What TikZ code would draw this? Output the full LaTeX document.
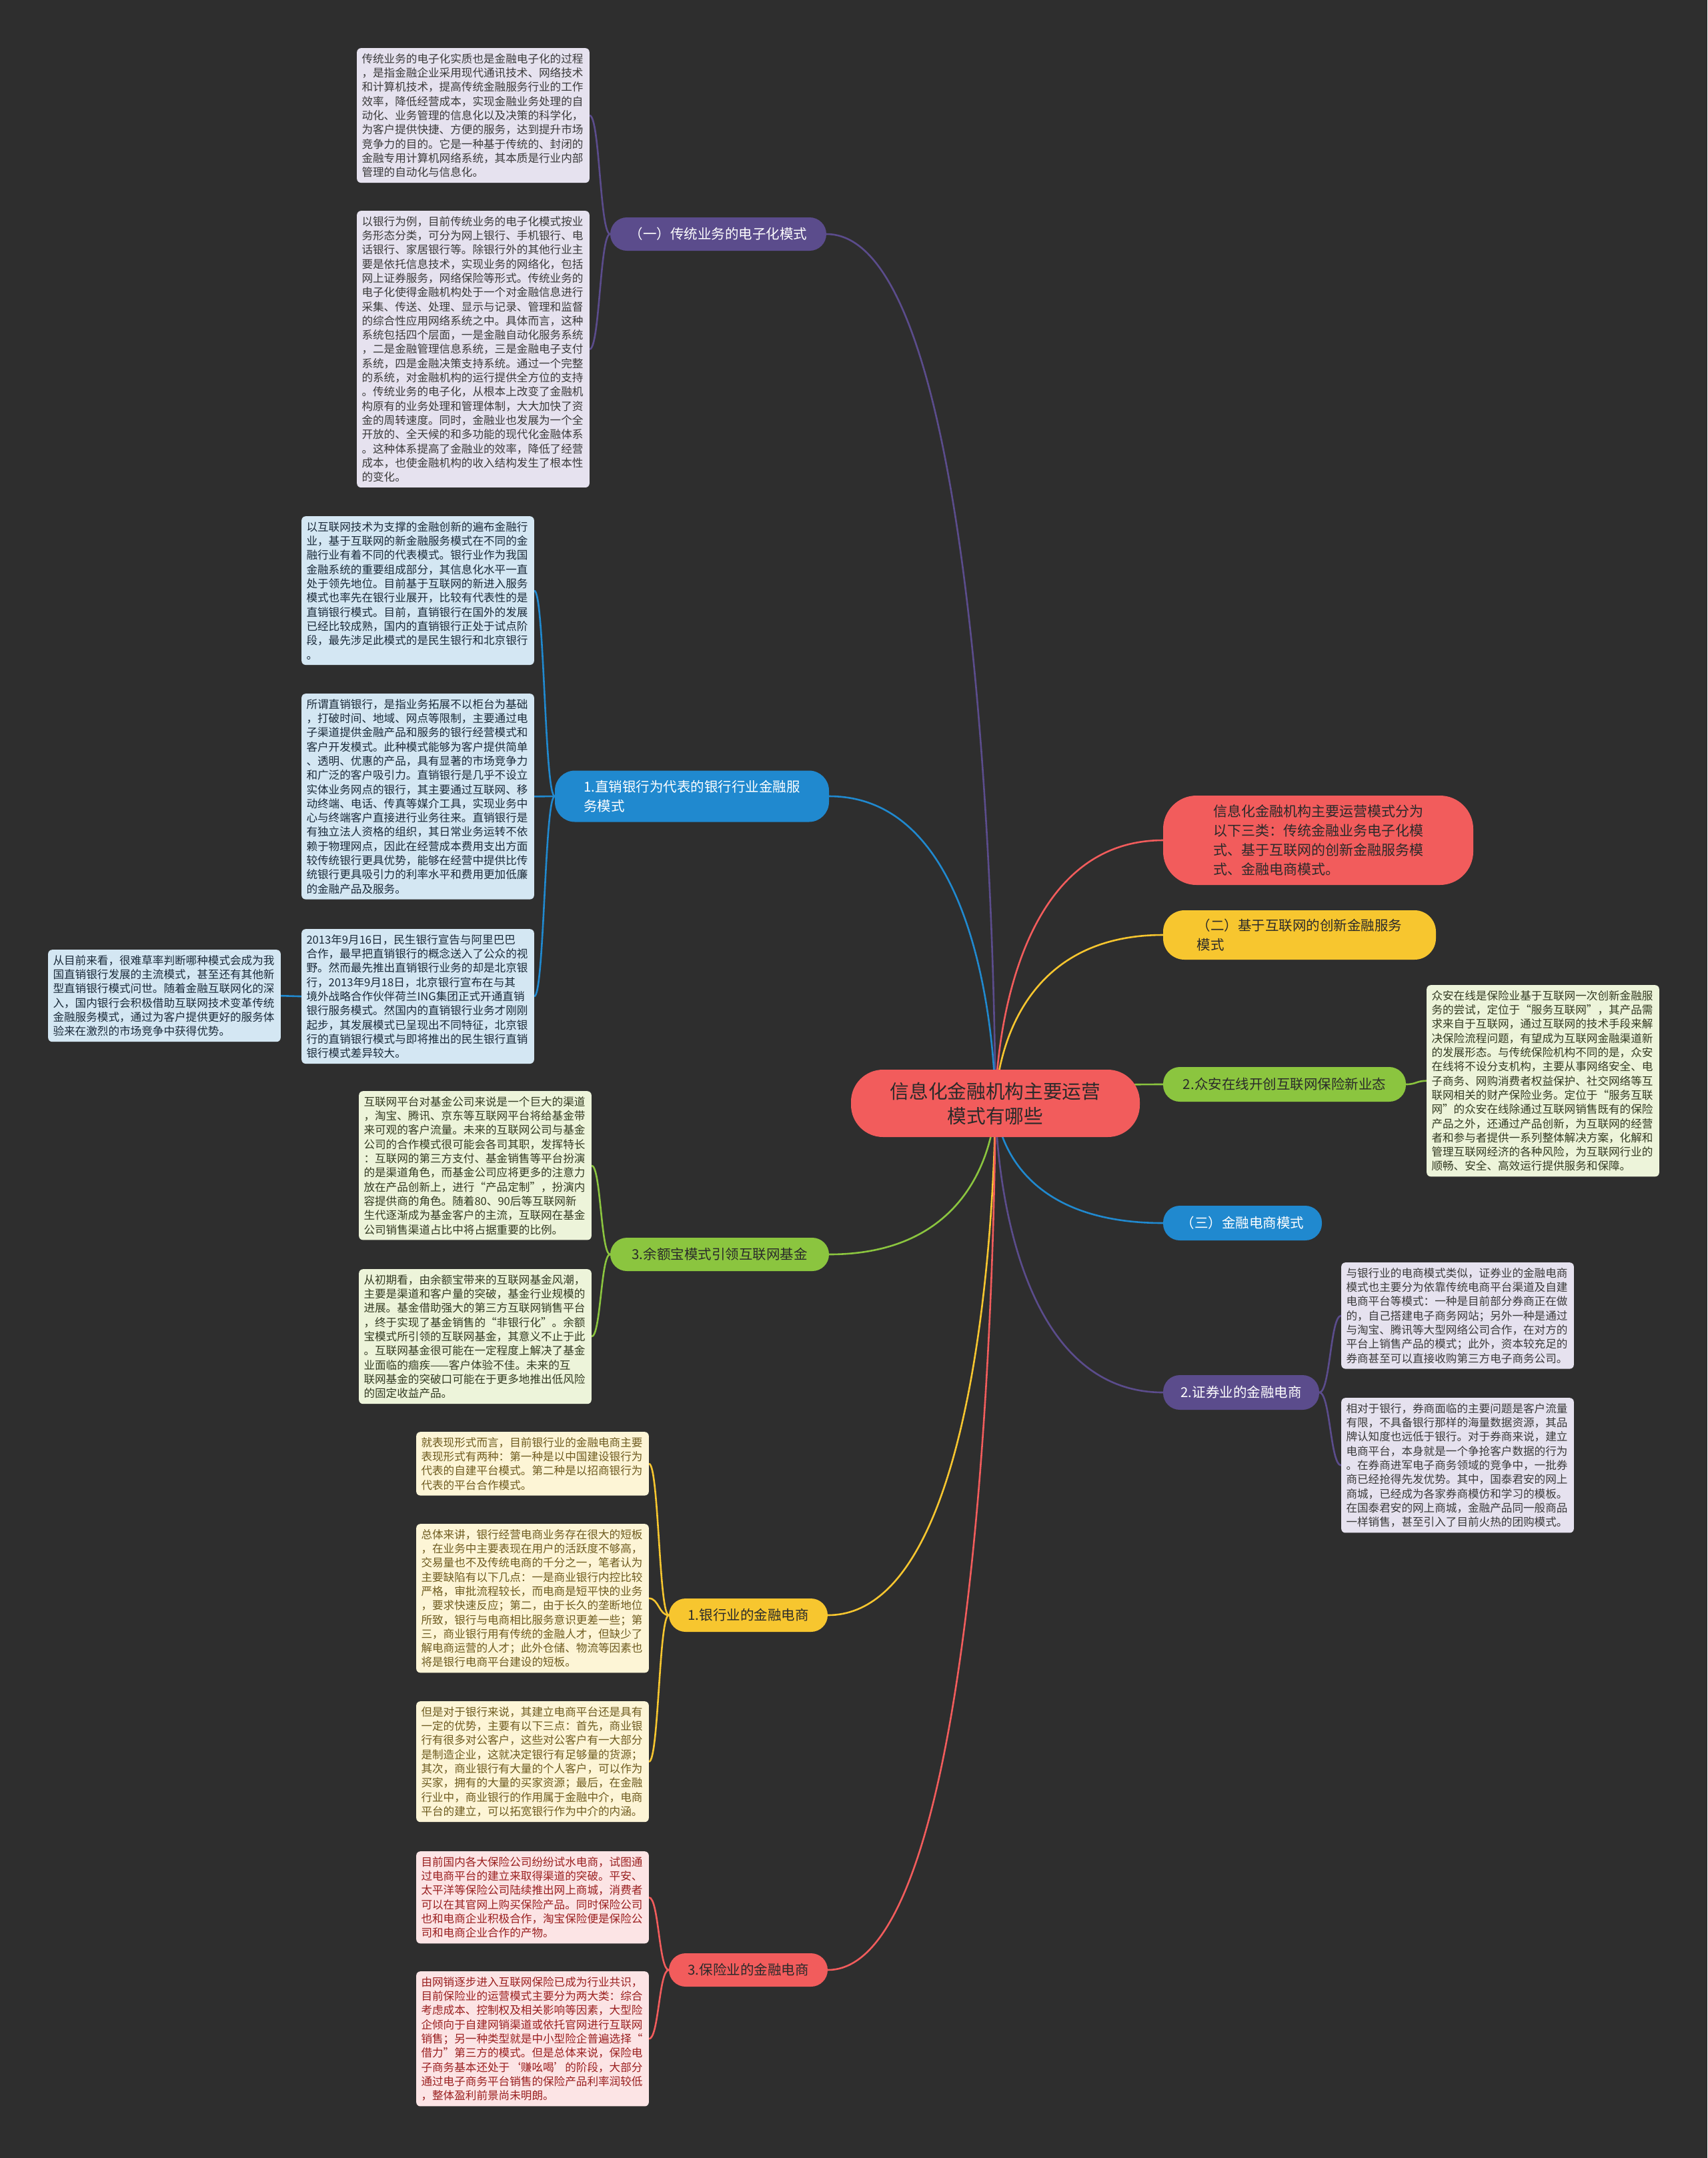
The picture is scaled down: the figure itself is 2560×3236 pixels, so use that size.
\documentclass[tikz,border=0pt]{standalone}
\usepackage{fontspec}
\newfontfamily\cjk{Noto Sans CJK SC}
\usetikzlibrary{calc}
\pgfdeclarelayer{bg}
\pgfsetlayers{bg,main}
\definecolor{bgc}{HTML}{2E2E2E}
\definecolor{cPur}{HTML}{5B4C8C}
\definecolor{cBlu}{HTML}{2089CF}
\definecolor{cGrn}{HTML}{8BC53F}
\definecolor{cYel}{HTML}{F7C62F}
\definecolor{cRed}{HTML}{F25C5C}
\definecolor{fPur}{HTML}{E6E2EF}
\definecolor{fBlu}{HTML}{D4E7F3}
\definecolor{fGrn}{HTML}{EDF4DA}
\definecolor{fYel}{HTML}{FDF5D6}
\definecolor{fRed}{HTML}{FCE4E5}
\definecolor{tPur}{HTML}{3A3A3A}
\definecolor{tBlu}{HTML}{1A2A3A}
\definecolor{tGrn}{HTML}{333A22}
\definecolor{tYel}{HTML}{6E5B1F}
\definecolor{tRed}{HTML}{9A1F1F}
\definecolor{tDark}{HTML}{2A2A2A}
\newcommand\rootlink[2]{\draw[conn,#1] (root.center) .. controls (root.center) and (root.center |- #2) .. (#2);}
\newcommand\sublink[3]{\draw[conn,#1] (#2) .. controls ($(#2)!0.5!(#2 -| #3)$) and ($(#3)!0.5!(#3 -| #2)$) .. (#3);}
\begin{document}
\begin{tikzpicture}[x=1pt,y=-1pt,
  conn/.style={line width=2.6pt},
  txtbox/.style={rounded corners=6pt, text width=334pt, align=left, inner xsep=7.3pt, inner ysep=8pt,
    font={\cjk\fontsize{16.6pt}{21.3pt}\selectfont}, anchor=north west},
  pbox/.style={txtbox, fill=fPur, text=tPur},
  bbox/.style={txtbox, fill=fBlu, text=tBlu},
  gbox/.style={txtbox, fill=fGrn, text=tGrn},
  ybox/.style={txtbox, fill=fYel, text=tYel},
  rbox/.style={txtbox, fill=fRed, text=tRed},
  branch/.style={rounded corners=25pt, inner sep=0pt, align=left,
    font={\cjk\fontsize{20.5pt}{29pt}\selectfont}},
]
\useasboundingbox (0,0) rectangle (2560,3236);
\begin{pgfonlayer}{bg}
\fill[bgc] (0,0) rectangle (2560,3236);
\end{pgfonlayer}

% root
\node[fill=cRed, rounded corners=48pt, minimum width=433pt, minimum height=101pt, inner sep=0pt, align=center,
  text=tDark, font={\cjk\fontsize{28.7pt}{37pt}\selectfont}] (root) at (1492.5,1654.5)
  {信息化金融机构主要运营\\模式有哪些};

% left branches
\node[branch, fill=cPur, text=white, minimum width=324pt, minimum height=50pt] (L1) at (1077,351) {（一）传统业务的电子化模式};
\node[branch, fill=cBlu, text=white, minimum width=411pt, minimum height=77pt, rounded corners=30pt] (L2) at (1037.5,1194) {1.直销银行为代表的银行行业金融服\\务模式};
\node[branch, fill=cGrn, text=tDark, minimum width=328pt, minimum height=50pt] (L3) at (1079,1881) {3.余额宝模式引领互联网基金};
\node[branch, fill=cYel, text=tDark, minimum width=238pt, minimum height=50pt] (L4) at (1122,2422) {1.银行业的金融电商};
\node[branch, fill=cRed, text=tDark, minimum width=238pt, minimum height=50pt] (L5) at (1122,2954) {3.保险业的金融电商};

% right branches
\node[branch, fill=cRed, text=tDark, minimum width=465pt, minimum height=134pt, rounded corners=50pt,
  font={\cjk\fontsize{21pt}{29pt}\selectfont}] (R1) at (1976.5,1260)
  {信息化金融机构主要运营模式分为\\以下三类：传统金融业务电子化模\\式、基于互联网的创新金融服务模\\式、金融电商模式。};
\node[branch, fill=cYel, text=tDark, minimum width=409pt, minimum height=74pt, rounded corners=32pt] (R2) at (1948.5,1402) {（二）基于互联网的创新金融服务\\模式};
\node[branch, fill=cGrn, text=tDark, minimum width=364pt, minimum height=52pt] (R3) at (1926,1626) {2.众安在线开创互联网保险新业态};
\node[branch, fill=cBlu, text=white, minimum width=238pt, minimum height=52pt] (R4) at (1863,1834) {（三）金融电商模式};
\node[branch, fill=cPur, text=white, minimum width=234pt, minimum height=52pt] (R5) at (1861,2088) {2.证券业的金融电商};

% text boxes
\node[pbox] (B1) at (535,72) {传统业务的电子化实质也是金融电子化的过程\\，是指金融企业采用现代通讯技术、网络技术\\和计算机技术，提高传统金融服务行业的工作\\效率，降低经营成本，实现金融业务处理的自\\动化、业务管理的信息化以及决策的科学化，\\为客户提供快捷、方便的服务，达到提升市场\\竞争力的目的。它是一种基于传统的、封闭的\\金融专用计算机网络系统，其本质是行业内部\\管理的自动化与信息化。};
\node[pbox] (B2) at (535,316) {以银行为例，目前传统业务的电子化模式按业\\务形态分类，可分为网上银行、手机银行、电\\话银行、家居银行等。除银行外的其他行业主\\要是依托信息技术，实现业务的网络化，包括\\网上证券服务，网络保险等形式。传统业务的\\电子化使得金融机构处于一个对金融信息进行\\采集、传送、处理、显示与记录、管理和监督\\的综合性应用网络系统之中。具体而言，这种\\系统包括四个层面，一是金融自动化服务系统\\，二是金融管理信息系统，三是金融电子支付\\系统，四是金融决策支持系统。通过一个完整\\的系统，对金融机构的运行提供全方位的支持\\。传统业务的电子化，从根本上改变了金融机\\构原有的业务处理和管理体制，大大加快了资\\金的周转速度。同时，金融业也发展为一个全\\开放的、全天候的和多功能的现代化金融体系\\。这种体系提高了金融业的效率，降低了经营\\成本，也使金融机构的收入结构发生了根本性\\的变化。};
\node[bbox] (B3) at (452,774) {以互联网技术为支撑的金融创新的遍布金融行\\业，基于互联网的新金融服务模式在不同的金\\融行业有着不同的代表模式。银行业作为我国\\金融系统的重要组成部分，其信息化水平一直\\处于领先地位。目前基于互联网的新进入服务\\模式也率先在银行业展开，比较有代表性的是\\直销银行模式。目前，直销银行在国外的发展\\已经比较成熟，国内的直销银行正处于试点阶\\段，最先涉足此模式的是民生银行和北京银行\\。};
\node[bbox] (B4) at (452,1040) {所谓直销银行，是指业务拓展不以柜台为基础\\，打破时间、地域、网点等限制，主要通过电\\子渠道提供金融产品和服务的银行经营模式和\\客户开发模式。此种模式能够为客户提供简单\\、透明、优惠的产品，具有显著的市场竞争力\\和广泛的客户吸引力。直销银行是几乎不设立\\实体业务网点的银行，其主要通过互联网、移\\动终端、电话、传真等媒介工具，实现业务中\\心与终端客户直接进行业务往来。直销银行是\\有独立法人资格的组织，其日常业务运转不依\\赖于物理网点，因此在经营成本费用支出方面\\较传统银行更具优势，能够在经营中提供比传\\统银行更具吸引力的利率水平和费用更加低廉\\的金融产品及服务。};
\node[bbox] (B5) at (452,1393) {2013年9月16日，民生银行宣告与阿里巴巴\\合作，最早把直销银行的概念送入了公众的视\\野。然而最先推出直销银行业务的却是北京银\\行，2013年9月18日，北京银行宣布在与其\\境外战略合作伙伴荷兰ING集团正式开通直销\\银行服务模式。然国内的直销银行业务才刚刚\\起步，其发展模式已呈现出不同特征，北京银\\行的直销银行模式与即将推出的民生银行直销\\银行模式差异较大。};
\node[bbox] (B6) at (72,1424) {从目前来看，很难草率判断哪种模式会成为我\\国直销银行发展的主流模式，甚至还有其他新\\型直销银行模式问世。随着金融互联网化的深\\入，国内银行会积极借助互联网技术变革传统\\金融服务模式，通过为客户提供更好的服务体\\验来在激烈的市场竞争中获得优势。};
\node[gbox] (B7) at (538,1636) {互联网平台对基金公司来说是一个巨大的渠道\\，淘宝、腾讯、京东等互联网平台将给基金带\\来可观的客户流量。未来的互联网公司与基金\\公司的合作模式很可能会各司其职，发挥特长\\：互联网的第三方支付、基金销售等平台扮演\\的是渠道角色，而基金公司应将更多的注意力\\放在产品创新上，进行“产品定制”，扮演内\\容提供商的角色。随着80、90后等互联网新\\生代逐渐成为基金客户的主流，互联网在基金\\公司销售渠道占比中将占据重要的比例。};
\node[gbox] (B8) at (538,1903) {从初期看，由余额宝带来的互联网基金风潮，\\主要是渠道和客户量的突破，基金行业规模的\\进展。基金借助强大的第三方互联网销售平台\\，终于实现了基金销售的“非银行化”。余额\\宝模式所引领的互联网基金，其意义不止于此\\。互联网基金很可能在一定程度上解决了基金\\业面临的痼疾——客户体验不佳。未来的互\\联网基金的突破口可能在于更多地推出低风险\\的固定收益产品。};
\node[ybox] (B9) at (624,2147) {就表现形式而言，目前银行业的金融电商主要\\表现形式有两种：第一种是以中国建设银行为\\代表的自建平台模式。第二种是以招商银行为\\代表的平台合作模式。};
\node[ybox] (B10) at (624,2285) {总体来讲，银行经营电商业务存在很大的短板\\，在业务中主要表现在用户的活跃度不够高，\\交易量也不及传统电商的千分之一，笔者认为\\主要缺陷有以下几点：一是商业银行内控比较\\严格，审批流程较长，而电商是短平快的业务\\，要求快速反应；第二，由于长久的垄断地位\\所致，银行与电商相比服务意识更差一些；第\\三，商业银行用有传统的金融人才，但缺少了\\解电商运营的人才；此外仓储、物流等因素也\\将是银行电商平台建设的短板。};
\node[ybox] (B11) at (624,2551) {但是对于银行来说，其建立电商平台还是具有\\一定的优势，主要有以下三点：首先，商业银\\行有很多对公客户，这些对公客户有一大部分\\是制造企业，这就决定银行有足够量的货源；\\其次，商业银行有大量的个人客户，可以作为\\买家，拥有的大量的买家资源；最后，在金融\\行业中，商业银行的作用属于金融中介，电商\\平台的建立，可以拓宽银行作为中介的内涵。};
\node[rbox] (B12) at (624,2776) {目前国内各大保险公司纷纷试水电商，试图通\\过电商平台的建立来取得渠道的突破。平安、\\太平洋等保险公司陆续推出网上商城，消费者\\可以在其官网上购买保险产品。同时保险公司\\也和电商企业积极合作，淘宝保险便是保险公\\司和电商企业合作的产物。};
\node[rbox] (B13) at (624,2956) {由网销逐步进入互联网保险已成为行业共识，\\目前保险业的运营模式主要分为两大类：综合\\考虑成本、控制权及相关影响等因素，大型险\\企倾向于自建网销渠道或依托官网进行互联网\\销售；另一种类型就是中小型险企普遍选择“\\借力”第三方的模式。但是总体来说，保险电\\子商务基本还处于‘赚吆喝’的阶段，大部分\\通过电子商务平台销售的保险产品利率润较低\\，整体盈利前景尚未明朗。};
\node[gbox] (B14) at (2139,1477) {众安在线是保险业基于互联网一次创新金融服\\务的尝试，定位于“服务互联网”，其产品需\\求来自于互联网，通过互联网的技术手段来解\\决保险流程问题，有望成为互联网金融渠道新\\的发展形态。与传统保险机构不同的是，众安\\在线将不设分支机构，主要从事网络安全、电\\子商务、网购消费者权益保护、社交网络等互\\联网相关的财产保险业务。定位于“服务互联\\网”的众安在线除通过互联网销售既有的保险\\产品之外，还通过产品创新，为互联网的经营\\者和参与者提供一系列整体解决方案，化解和\\管理互联网经济的各种风险，为互联网行业的\\顺畅、安全、高效运行提供服务和保障。};
\node[pbox] (B15) at (2011,1893) {与银行业的电商模式类似，证券业的金融电商\\模式也主要分为依靠传统电商平台渠道及自建\\电商平台等模式：一种是目前部分券商正在做\\的，自己搭建电子商务网站；另外一种是通过\\与淘宝、腾讯等大型网络公司合作，在对方的\\平台上销售产品的模式；此外，资本较充足的\\券商甚至可以直接收购第三方电子商务公司。};
\node[pbox] (B16) at (2011,2096) {相对于银行，券商面临的主要问题是客户流量\\有限，不具备银行那样的海量数据资源，其品\\牌认知度也远低于银行。对于券商来说，建立\\电商平台，本身就是一个争抢客户数据的行为\\。在券商进军电子商务领域的竞争中，一批券\\商已经抢得先发优势。其中，国泰君安的网上\\商城，已经成为各家券商模仿和学习的模板。\\在国泰君安的网上商城，金融产品同一般商品\\一样销售，甚至引入了目前火热的团购模式。};

% connectors
\begin{pgfonlayer}{bg}
\rootlink{cPur}{L1.east}
\rootlink{cBlu}{L2.east}
\rootlink{cGrn}{L3.east}
\rootlink{cYel}{L4.east}
\rootlink{cRed}{L5.east}
\rootlink{cRed}{R1.west}
\rootlink{cYel}{R2.west}
\rootlink{cGrn}{R3.west}
\rootlink{cBlu}{R4.west}
\rootlink{cPur}{R5.west}
\sublink{cPur}{L1.west}{B1.east}
\sublink{cPur}{L1.west}{B2.east}
\sublink{cBlu}{L2.west}{B3.east}
\sublink{cBlu}{L2.west}{B4.east}
\sublink{cBlu}{L2.west}{B5.east}
\sublink{cBlu}{B5.west}{B6.east}
\sublink{cGrn}{L3.west}{B7.east}
\sublink{cGrn}{L3.west}{B8.east}
\sublink{cYel}{L4.west}{B9.east}
\sublink{cYel}{L4.west}{B10.east}
\sublink{cYel}{L4.west}{B11.east}
\sublink{cRed}{L5.west}{B12.east}
\sublink{cRed}{L5.west}{B13.east}
\sublink{cGrn}{R3.east}{B14.west}
\sublink{cPur}{R5.east}{B15.west}
\sublink{cPur}{R5.east}{B16.west}
\end{pgfonlayer}
\end{tikzpicture}
\end{document}
